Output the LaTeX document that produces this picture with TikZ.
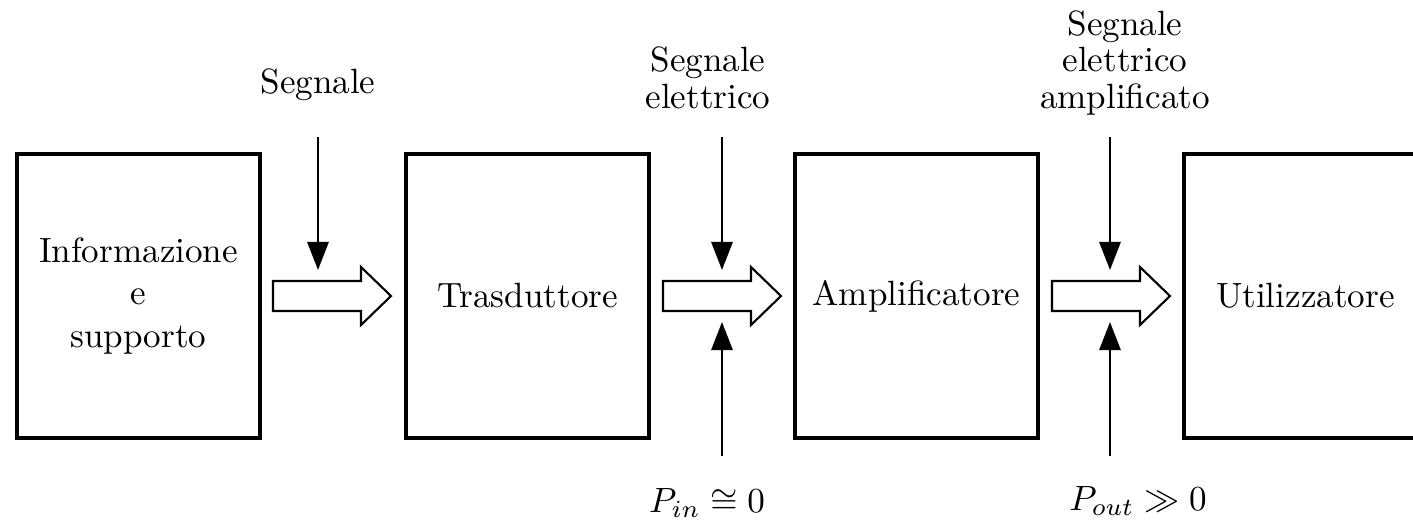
\documentclass[tikz,border=0pt]{standalone}
\usetikzlibrary{arrows.meta}
\begin{document}
\begin{tikzpicture}[x=0.285pt,y=-0.285pt,
 block/.style={draw,line width=1.1pt,minimum width=69.3pt,minimum height=80.9pt,inner sep=0pt,outer sep=0pt,align=center},
 lbl/.style={align=center,inner sep=0pt,font=\fontsize{10}{10.3}\selectfont},
 sig/.style={line width=0.85pt,-{Triangle[length=8pt,width=6pt]}},
 hollow/.style={draw,line width=0.6pt,fill=white,line join=miter},
 hollowarrow/.pic={\draw[hollow] (0,-15) -- (88,-15) -- (88,-29) -- (118,0) -- (88,29) -- (88,15) -- (0,15) -- cycle;}]
\clip (0,0) rectangle (1413,520);
\fill[white] (0,0) rectangle (1413,520);
% blocks
\node[block] (b1) at (138.5,296) {Informazione\\e\\supporto};
\node[block] (b2) at (527.5,296) {Trasduttore};
\node[block] (b3) at (916.5,296) {Amplificatore};
\node[block] (b4) at (1305.5,296) {Utilizzatore};
% hollow arrows
\pic at (273,296) {hollowarrow};
\pic at (663,296) {hollowarrow};
\pic at (1052,296) {hollowarrow};
% labels
\node[lbl,anchor=base] (l1) at (318,93) {Segnale};
\node[lbl,anchor=base] (l2) at (708,108) {Segnale\\elettrico};
\node[lbl,anchor=base] (l3) at (1125,108) {Segnale\\elettrico\\amplificato};
\node[lbl,anchor=base] (p1) at (707,512) {$P_{in}\cong 0$};
\node[lbl,anchor=base] (p2) at (1138,510) {$P_{out}\gg 0$};
% vertical arrows
\coordinate (s1) at (318,137); \coordinate (e1) at (318,270);
\coordinate (s2) at (722,137); \coordinate (e2) at (722,270);
\coordinate (s3) at (1110,137); \coordinate (e3) at (1110,270);
\coordinate (u2) at (722,456); \coordinate (f2) at (722,322);
\coordinate (u3) at (1110,456); \coordinate (f3) at (1110,322);
\draw[sig] (s1) -- (e1);
\draw[sig] (s2) -- (e2);
\draw[sig] (s3) -- (e3);
\draw[sig] (u2) -- (f2);
\draw[sig] (u3) -- (f3);
\end{tikzpicture}
\end{document}
